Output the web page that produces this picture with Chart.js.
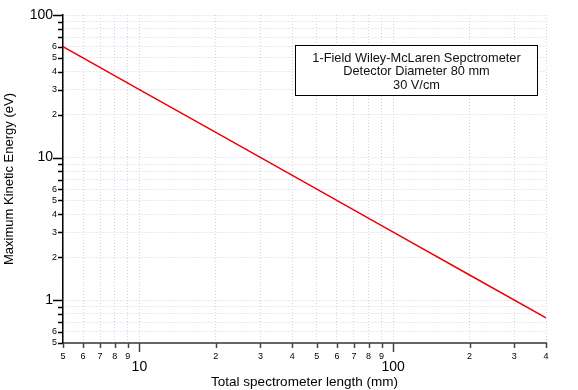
<!DOCTYPE html>
<html><head><meta charset="utf-8">
<script src="https://cdn.jsdelivr.net/npm/chart.js@4"></script>
<style>html,body{margin:0;padding:0;background:#fff}</style>
</head><body>
<canvas id="c" width="578" height="390"></canvas>
<script>
const lengthsMm = [5, 10, 20, 50, 100, 200, 400];
const maxEnergyEv = [60, 30, 15, 6, 3, 1.5, 0.75];
const xTickValues = [5, 6, 7, 8, 9, 10, 20, 30, 40, 50, 60, 70, 80, 90, 100, 200, 300, 400];
const yTickValues = [0.5, 0.6, 0.7, 0.8, 0.9, 1, 2, 3, 4, 5, 6, 7, 8, 9, 10, 20, 30, 40, 50, 60, 70, 80, 90, 100];
const xMajorTicks = [10, 100];
const yMajorTicks = [1, 10, 100];
const yUnlabeledTicks = [0.7, 0.8, 0.9, 7, 8, 9, 70, 80, 90];
const noteLines = ['1-Field Wiley-McLaren Sepctrometer', 'Detector Diameter 80 mm', '30 V/cm'];
const xTitle = 'Total spectrometer length (mm)';
const yTitle = 'Maximum Kinetic Energy (eV)';

const FONT = '"Liberation Sans", Arial, sans-serif';
const near = (v, list) => list.some(m => Math.abs(m - v) < 1e-9);
const leadDigit = v => String(Math.round(v / Math.pow(10, Math.floor(Math.log10(v) + 1e-9))));

const tickMarks = {
  id: 'tickMarks',
  afterDraw(chart) {
    const ctx = chart.ctx, xs = chart.scales.x, ys = chart.scales.y, a = chart.chartArea;
    ctx.save();
    ctx.strokeStyle = '#000';
    ctx.lineWidth = 1.5;
    yTickValues.forEach(v => {
      const y = Math.round(ys.getPixelForValue(v)) + 0.5;
      const len = near(v, yMajorTicks) ? 10 : 5;
      ctx.beginPath(); ctx.moveTo(a.left - len, y); ctx.lineTo(a.left, y); ctx.stroke();
    });
    ctx.strokeStyle = '#444';
    xTickValues.forEach(v => {
      const x = Math.round(xs.getPixelForValue(v)) + 0.5;
      const len = near(v, xMajorTicks) ? 9 : 5;
      ctx.beginPath(); ctx.moveTo(x, a.bottom); ctx.lineTo(x, a.bottom + len); ctx.stroke();
    });
    ctx.restore();
  }
};

const noteBox = {
  id: 'noteBox',
  afterDraw(chart) {
    const ctx = chart.ctx;
    const x0 = 295.5, y0 = 45.5, w = 242, h = 50;
    ctx.save();
    ctx.fillStyle = '#fff';
    ctx.fillRect(x0, y0, w, h);
    ctx.strokeStyle = '#000';
    ctx.lineWidth = 1;
    ctx.strokeRect(x0, y0, w, h);
    ctx.fillStyle = '#111';
    ctx.font = '12.8px ' + FONT;
    ctx.textAlign = 'center';
    ctx.textBaseline = 'middle';
    noteLines.forEach((t, i) => ctx.fillText(t, x0 + w / 2, y0 + 12.5 + i * 13.5));
    ctx.restore();
  }
};

const gridColor = '#d2d2e6';

new Chart(document.getElementById('c'), {
  type: 'line',
  data: {
    datasets: [{
      data: lengthsMm.map((x, i) => ({ x, y: maxEnergyEv[i] })),
      borderColor: '#ee0000',
      borderWidth: 1.5,
      pointRadius: 0,
      tension: 0,
      fill: false
    }]
  },
  options: {
    responsive: false,
    animation: false,
    events: [],
    layout: { padding: { left: 0, right: 32, top: 15, bottom: 0 } },
    plugins: { legend: { display: false }, tooltip: { enabled: false } },
    scales: {
      x: {
        type: 'logarithmic',
        min: 5, max: 400,
        afterBuildTicks: s => { s.ticks = xTickValues.map(v => ({ value: v, major: near(v, xMajorTicks) })); },
        afterFit: s => { s.height = 47; },
        grid: { color: gridColor, lineWidth: 1, drawTicks: false },
        border: { display: true, color: '#666', width: 2, dash: [1, 2] },
        ticks: {
          autoSkip: false, maxRotation: 0, padding: 8, color: '#000',
          font: c => near(c.tick.value, xMajorTicks) ? { family: FONT, size: 14, lineHeight: 0.78 } : { family: FONT, size: 9 },
          callback: v => near(v, xMajorTicks) ? ['', String(v)] : leadDigit(v)
        },
        title: { display: true, text: xTitle, color: '#000', font: { family: FONT, size: 13.5 }, padding: { top: 0, bottom: 0 } }
      },
      y: {
        type: 'logarithmic',
        min: 0.5, max: 100,
        afterBuildTicks: s => { s.ticks = yTickValues.map(v => ({ value: v, major: near(v, yMajorTicks) })); },
        afterFit: s => { s.width = 63; },
        grid: { color: gridColor, lineWidth: 1, drawTicks: false },
        border: { display: true, color: '#000', width: 1.5, dash: [1, 2] },
        ticks: {
          autoSkip: false, padding: 6, color: '#000',
          font: c => near(c.tick.value, yMajorTicks) ? { family: FONT, size: 14 } : { family: FONT, size: 9 },
          callback: v => near(v, yMajorTicks) ? String(v) + ' ' : (near(v, yUnlabeledTicks) ? '' : leadDigit(v))
        },
        title: { display: true, text: yTitle, color: '#000', font: { family: FONT, size: 13 }, padding: { top: 2, bottom: 0 } }
      }
    }
  },
  plugins: [tickMarks, noteBox]
});
</script>
</body></html>
